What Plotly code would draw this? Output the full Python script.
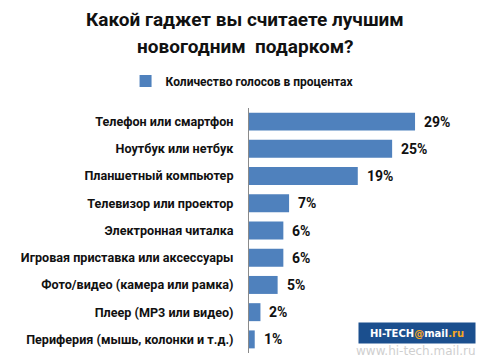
import plotly.graph_objects as go

categories = [
    "Телефон или смартфон",
    "Ноутбук или нетбук",
    "Планшетный компьютер",
    "Телевизор или проектор",
    "Электронная читалка",
    "Игровая приставка или аксессуары",
    "Фото/видео (камера или рамка)",
    "Плеер (MP3 или видео)",
    "Периферия (мышь, колонки и т.д.)",
]
values = [29, 25, 19, 7, 6, 6, 5, 2, 1]
series_name = "Количество голосов в процентах"
title_line1 = "Какой гаджет вы считаете лучшим"
title_line2 = "новогодним  подарком?"

FONT = "Roboto"
BAR = "#4F81BD"

W, H = 494, 362
ML, MR, MT, MB = 249, 24, 108, 9
PW, PH = W - ML - MR, H - MT - MB


def px(x):
    return (x - ML) / PW


def py(y):
    return (H - MB - y) / PH


fig = go.Figure()
fig.add_trace(go.Bar(
    x=values, y=categories, orientation="h",
    marker=dict(color=BAR, line=dict(width=0)),
    name=series_name, showlegend=True,
))

for c, v in zip(categories, values):
    fig.add_annotation(x=v, y=c, xref="x", yref="y", text=f"<b>{v}%</b>",
                       showarrow=False, xanchor="left", xshift=7,
                       font=dict(family=FONT, size=14, color="#111"))

fig.update_layout(
    template="none",
    width=W, height=H,
    paper_bgcolor="white", plot_bgcolor="white",
    margin=dict(l=ML, r=MR, t=MT, b=MB, autoexpand=False),
    bargap=0.34,
    showlegend=True,
    legend=dict(orientation="h", xref="container", yref="container",
                x=0.49, xanchor="center", y=1 - 81 / H, yanchor="middle",
                font=dict(family=FONT, size=12, color="#111", weight="bold"),
                itemwidth=30, bgcolor="rgba(0,0,0,0)"),
    xaxis=dict(range=[0, 38.6], visible=False, fixedrange=True, automargin=False),
    yaxis=dict(autorange="reversed", showline=True, linecolor="#8a8a8a", linewidth=1,
               ticks="", ticklabelstandoff=12, showgrid=False, automargin=False,
               tickfont=dict(family=FONT, size=12.6, color="#111", weight="bold")),
)

# title (two lines)
for txt, yy in [(title_line1, 20), (title_line2, 47)]:
    fig.add_annotation(xref="paper", yref="paper", x=px(245), y=py(yy), xanchor="center", yanchor="middle",
                       text="<b>" + txt + "</b>", showarrow=False, align="center",
                       font=dict(family=FONT, size=19, color="#111"))

# watermark logo
fig.add_annotation(xref="paper", yref="paper", x=px(417), y=py(333), xanchor="center", yanchor="middle",
                   text="<b>HI-TECH<span style='color:#F5A623'>@</span>mail<span style='color:#F5A623'>.ru</span></b>",
                   showarrow=False, bgcolor="#1B4F8E", borderpad=3, width=110, height=14,
                   font=dict(family="DejaVu Sans", size=10, color="white"))
fig.add_annotation(xref="paper", yref="paper", x=px(416), y=py(351), xanchor="center", yanchor="middle",
                   text="www.hi-tech.mail.ru", showarrow=False,
                   font=dict(family="DejaVu Sans", size=12, color="#cfcfcf"))

fig.write_html("out.html", post_script="document.body.style.margin='0';",
               config={"displayModeBar": False, "staticPlot": True})
